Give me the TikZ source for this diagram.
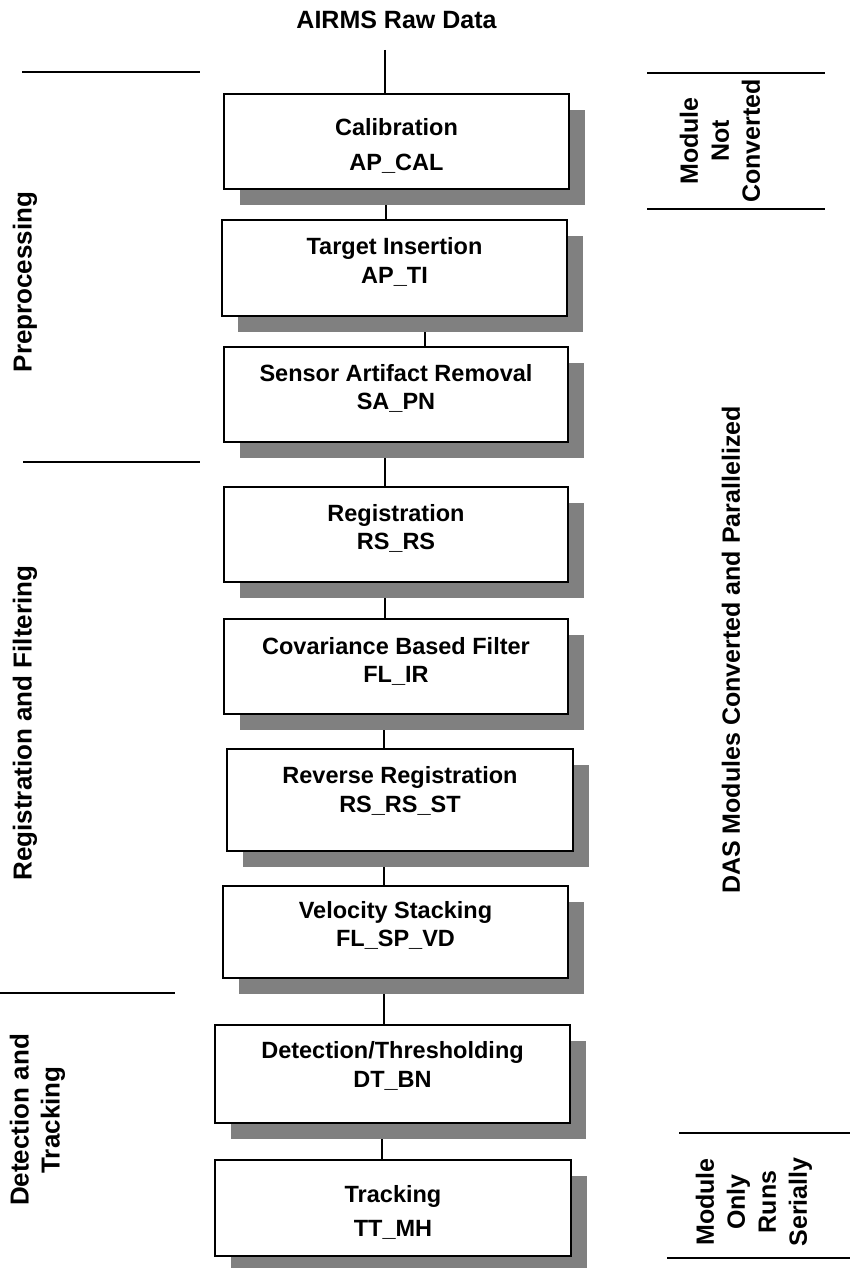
\documentclass[tikz,border=0pt]{standalone}
\usepackage{fontspec}
\setmainfont{Liberation Sans}
\usetikzlibrary{shadows,backgrounds,calc}
\newcommand{\modtext}[6]{\parbox[c][#2pt][t]{#1pt}{\centering\baselineskip=#4pt\lineskiplimit=-100pt\rule{0pt}{#3pt}#5\par #6\par}}
\tikzset{
  module/.style={draw=black, line width=2pt, inner sep=0pt, anchor=north west, fill=white,
    font=\fontsize{23.5}{28}\selectfont\bfseries,
    drop shadow={shadow xshift=16pt, shadow yshift=-16pt, fill=black!50, draw=none, opacity=1}},
  conn/.style={draw=black, line width=1.6pt},
  sepline/.style={draw=black, line width=2pt},
  sidelbl/.style={rotate=90, align=center, font=\fontsize{26}{31}\selectfont\bfseries, inner sep=0pt},
  rightlbl/.style={rotate=90, align=center, font=\fontsize{25}{31}\selectfont\bfseries, inner sep=0pt}
}
\begin{document}
\begin{tikzpicture}[x=1pt,y=-1pt]
\useasboundingbox (0,0) rectangle (850,1268);

% title
\node[font=\fontsize{25}{30}\selectfont\bfseries, anchor=base, inner sep=0pt] (title) at (396.5,29) {AIRMS Raw Data};
\coordinate (t0) at (385,50);

% modules
\node[module] (cal)  at (223,93)   {\modtext{345}{95}{42}{35}{Calibration}{AP\_CAL}};
\node[module] (ti)   at (221,219)  {\modtext{345}{96}{34}{29}{Target Insertion}{AP\_TI}};
\node[module] (sa)   at (223,346)  {\modtext{344}{95}{34}{28}{Sensor Artifact Removal}{SA\_PN}};
\node[module] (rs)   at (223,486)  {\modtext{344}{95}{34}{28}{Registration}{RS\_RS}};
\node[module] (flir) at (223,618)  {\modtext{344}{95}{35}{28}{Covariance Based Filter}{FL\_IR}};
\node[module] (rrs)  at (226,748)  {\modtext{346}{102}{34}{29}{Reverse Registration}{RS\_RS\_ST}};
\node[module] (vd)   at (222,885)  {\modtext{345}{92}{32}{28}{Velocity Stacking}{FL\_SP\_VD}};
\node[module] (dt)   at (214,1024) {\modtext{355}{98}{33}{29}{Detection/Thresholding}{DT\_BN}};
\node[module] (tt)   at (214,1159) {\modtext{356}{96}{42}{34}{Tracking}{TT\_MH}};

% connectors (behind shadows)
\begin{pgfonlayer}{background}
\draw[conn] (t0) -- (t0 |- cal.north);
\draw[conn] ([xshift=-10.5pt]cal.south) -- ([xshift=-10.5pt]cal.south |- ti.north);
\draw[conn] ([xshift=30.5pt]ti.south) -- ([xshift=30.5pt]ti.south |- sa.north);
\draw[conn] ([xshift=-11pt]sa.south) -- ([xshift=-11pt]sa.south |- rs.north);
\draw[conn] ([xshift=-11pt]rs.south) -- ([xshift=-11pt]rs.south |- flir.north);
\draw[conn] ([xshift=-12pt]flir.south) -- ([xshift=-12pt]flir.south |- rrs.north);
\draw[conn] ([xshift=-16pt]rrs.south) -- ([xshift=-16pt]rrs.south |- vd.north);
\draw[conn] ([xshift=-11.5pt]vd.south) -- ([xshift=-11.5pt]vd.south |- dt.north);
\draw[conn] ([xshift=-10.5pt]dt.south) -- ([xshift=-10.5pt]dt.south |- tt.north);
\end{pgfonlayer}

% left section separators
\draw[sepline] (22,72) -- (200,72);
\draw[sepline] (23,462) -- (200,462);
\draw[sepline] (0,993) -- (175,993);

% right section separators
\draw[sepline] (647,73) -- (825,73);
\draw[sepline] (647,209) -- (825,209);
\draw[sepline] (679,1133) -- (850,1133);
\draw[sepline] (667,1258) -- (850,1258);

% left labels
\node[sidelbl] (pre) at (25,282) {Preprocessing};
\node[sidelbl] (regf) at (25,723) {Registration and Filtering};
\node[sidelbl] (dett) at (37.5,1120) {Detection and\\Tracking};

% right labels
\node[rightlbl] (mnc) at (720,141) {Module\\Not\\Converted};
\node[rightlbl] (das) at (731,650) {DAS Modules Converted and Parallelized};
\node[rightlbl] (mors) at (754,1202) {Module\\Only\\Runs\\Serially};
\end{tikzpicture}
\end{document}
